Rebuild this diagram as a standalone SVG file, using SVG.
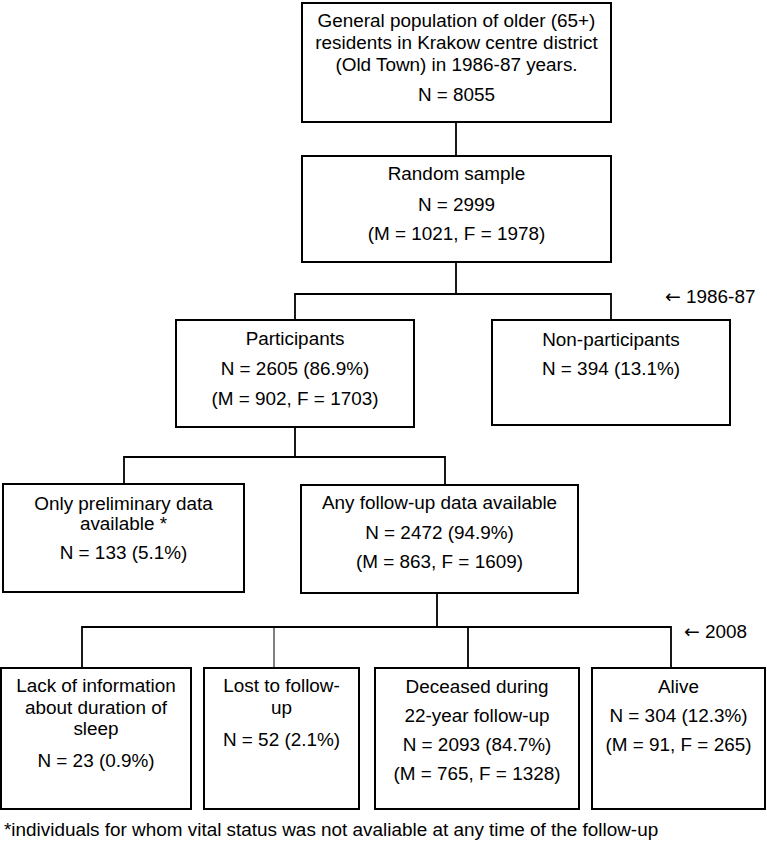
<svg xmlns="http://www.w3.org/2000/svg" width="767" height="846" viewBox="0 0 767 846">
<style>
.box{fill:#fff;stroke:#000;stroke-width:2}
.t{font-family:"Liberation Sans",Arial,sans-serif;font-size:18.9px;fill:#000;text-anchor:middle}
.s{font-family:"Liberation Sans",Arial,sans-serif;font-size:18.9px;fill:#000}
.a{font-family:"DejaVu Sans",sans-serif}
.c{fill:none;stroke:#000;stroke-width:1.8}
</style>
<rect width="767" height="846" fill="#fff"/>
<g id="connectors">
<path class="c" d="M456 122V156"/>
<path class="c" d="M456 262V294M295 320V294H611V320"/>
<path class="c" d="M295 427V457M124 484V457H445V485"/>
<path class="c" d="M437 593V627M82 668V627H671V668M468 627V668"/>
<path class="c" style="stroke-width:1" d="M274 627V668"/>
</g>
<g id="n1"><rect class="box" x="302" y="3" width="309" height="119"/>
<text class="t" x="456.5" y="27">General population of older (65+)</text>
<text class="t" x="456.5" y="49">residents in Krakow centre district</text>
<text class="t" x="456.5" y="71">(Old Town) in 1986-87 years.</text>
<text class="t" x="456.5" y="101">N = 8055</text></g>
<g id="n2"><rect class="box" x="302" y="156" width="309" height="106"/>
<text class="t" x="456.5" y="180">Random sample</text>
<text class="t" x="456.5" y="211">N = 2999</text>
<text class="t" x="456.5" y="240">(M = 1021, F = 1978)</text></g>
<g id="n3"><rect class="box" x="176" y="320" width="238" height="107"/>
<text class="t" x="295" y="345">Participants</text>
<text class="t" x="295" y="375">N = 2605 (86.9%)</text>
<text class="t" x="295" y="405">(M = 902, F = 1703)</text></g>
<g id="n4"><rect class="box" x="492" y="320" width="238" height="105"/>
<text class="t" x="611" y="346">Non-participants</text>
<text class="t" x="611" y="375">N = 394 (13.1%)</text></g>
<text class="s" x="665" y="303"><tspan class="a">←</tspan> 1986-87</text>
<g id="n5"><rect class="box" x="3" y="484" width="241" height="108"/>
<text class="t" x="123.5" y="510">Only preliminary data</text>
<text class="t" x="123.5" y="530">available *</text>
<text class="t" x="123.5" y="559">N = 133 (5.1%)</text></g>
<g id="n6"><rect class="box" x="301" y="485" width="277" height="108"/>
<text class="t" x="439.5" y="509">Any follow-up data available</text>
<text class="t" x="439.5" y="539">N = 2472 (94.9%)</text>
<text class="t" x="439.5" y="568">(M = 863, F = 1609)</text></g>
<text class="s" x="684" y="638"><tspan class="a">←</tspan> 2008</text>
<g id="n7"><rect class="box" x="1" y="668" width="190" height="141"/>
<text class="t" x="96" y="692">Lack of information</text>
<text class="t" x="96" y="714">about duration of</text>
<text class="t" x="96" y="735">sleep</text>
<text class="t" x="96" y="767">N = 23 (0.9%)</text></g>
<g id="n8"><rect class="box" x="204" y="668" width="155" height="141"/>
<text class="t" x="281.5" y="692">Lost to follow-</text>
<text class="t" x="281.5" y="714">up</text>
<text class="t" x="281.5" y="746">N = 52 (2.1%)</text></g>
<g id="n9"><rect class="box" x="375" y="668" width="204" height="141"/>
<text class="t" x="477" y="693">Deceased during</text>
<text class="t" x="477" y="722">22-year follow-up</text>
<text class="t" x="477" y="751">N = 2093 (84.7%)</text>
<text class="t" x="477" y="780">(M = 765, F = 1328)</text></g>
<g id="n10"><rect class="box" x="592" y="668" width="173" height="141"/>
<text class="t" x="678.5" y="693">Alive</text>
<text class="t" x="678.5" y="722">N = 304 (12.3%)</text>
<text class="t" x="678.5" y="751">(M = 91, F = 265)</text></g>
<text class="s" x="4" y="836">*individuals for whom vital status was not avaliable at any time of the follow-up</text>
</svg>
